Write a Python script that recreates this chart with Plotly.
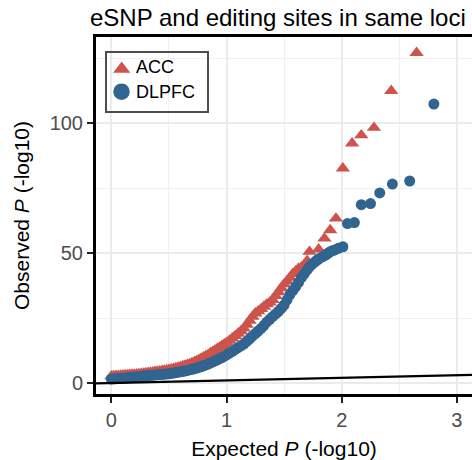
import plotly.graph_objects as go

# ACC (triangles): expected -log10 P vs observed -log10 P
acc_expected = [0.00, 0.02, 0.04, 0.06, 0.08, 0.10, 0.12, 0.14, 0.16, 0.18,
                0.20, 0.22, 0.24, 0.26, 0.28, 0.30, 0.32, 0.34, 0.36, 0.38,
                0.40, 0.42, 0.44, 0.46, 0.48, 0.50, 0.52, 0.54, 0.56, 0.58,
                0.60, 0.62, 0.64, 0.66, 0.68, 0.70, 0.72, 0.74, 0.76, 0.78,
                0.80, 0.82, 0.84, 0.86, 0.88, 0.90, 0.92, 0.94, 0.96, 0.98,
                1.00, 1.025, 1.05, 1.075, 1.10, 1.125, 1.15, 1.175, 1.20, 1.225,
                1.25, 1.275, 1.30, 1.325, 1.35, 1.375, 1.40, 1.425, 1.45, 1.475,
                1.50, 1.525, 1.55, 1.575, 1.60, 1.625, 1.65, 1.675, 1.70, 1.72,
                1.80, 1.85, 1.90, 1.95, 2.01, 2.09, 2.17, 2.28, 2.43, 2.65]
acc_observed = [2.6, 2.7, 2.75, 2.8, 2.9, 3.0, 3.05, 3.1, 3.2, 3.25,
                3.3, 3.4, 3.5, 3.6, 3.7, 3.8, 3.9, 4.0, 4.15, 4.3,
                4.4, 4.55, 4.7, 4.85, 5.0, 5.1, 5.3, 5.5, 5.75, 6.0,
                6.2, 6.5, 6.75, 7.05, 7.35, 7.7, 8.1, 8.5, 8.9, 9.4,
                9.9, 10.4, 10.9, 11.5, 12.0, 12.6, 13.2, 13.7, 14.3, 14.9,
                15.5, 16.3, 17.2, 18.1, 19.0, 20.0, 21.0, 22.5, 24.0, 25.5,
                26.8, 27.6, 28.5, 29.4, 30.3, 31.0, 32.0, 33.5, 35.0, 36.5,
                38.0, 39.2, 40.5, 42.0, 43.0, 44.0, 44.5, 45.5, 47.0, 50.5,
                51.4, 55.6, 58.8, 63.3, 82.6, 92.2, 95.3, 98.2, 112.4, 127.0]

# DLPFC (circles)
dlpfc_expected = [0.00, 0.02, 0.04, 0.06, 0.08, 0.10, 0.12, 0.14, 0.16, 0.18,
                  0.20, 0.22, 0.24, 0.26, 0.28, 0.30, 0.32, 0.34, 0.36, 0.38,
                  0.40, 0.42, 0.44, 0.46, 0.48, 0.50, 0.52, 0.54, 0.56, 0.58,
                  0.60, 0.62, 0.64, 0.66, 0.68, 0.70, 0.72, 0.74, 0.76, 0.78,
                  0.80, 0.82, 0.84, 0.86, 0.88, 0.90, 0.92, 0.94, 0.96, 0.98,
                  1.00, 1.025, 1.05, 1.075, 1.10, 1.125, 1.15, 1.175, 1.20, 1.225,
                  1.25, 1.275, 1.30, 1.325, 1.35, 1.375, 1.40, 1.425, 1.45, 1.475,
                  1.50, 1.525, 1.55, 1.575, 1.60, 1.625, 1.65, 1.675, 1.70, 1.72,
                  1.745, 1.77, 1.79, 1.81, 1.835, 1.86, 1.88, 1.90, 1.92, 1.94,
                  1.97, 2.01, 2.05, 2.11, 2.17, 2.25, 2.33, 2.44, 2.59, 2.80]
dlpfc_observed = [1.5, 1.6, 1.65, 1.7, 1.8, 1.85, 1.9, 2.0, 2.1, 2.2,
                  2.3, 2.4, 2.5, 2.6, 2.7, 2.8, 2.85, 2.95, 3.0, 3.1,
                  3.2, 3.25, 3.3, 3.4, 3.5, 3.6, 3.7, 3.85, 4.0, 4.15,
                  4.3, 4.5, 4.65, 4.85, 5.05, 5.25, 5.5, 5.75, 6.0, 6.3,
                  6.6, 6.95, 7.3, 7.7, 8.1, 8.5, 8.9, 9.35, 9.8, 10.3,
                  10.8, 11.5, 12.2, 12.9, 13.6, 14.3, 15.0, 16.0, 17.0, 18.0,
                  19.0, 20.0, 21.0, 22.2, 23.5, 24.5, 25.5, 26.5, 27.5, 28.7,
                  30.0, 32.0, 34.0, 35.5, 37.0, 38.7, 40.5, 42.0, 43.5, 44.7,
                  45.7, 46.7, 47.4, 48.0, 48.6, 49.2, 49.9, 50.5, 50.9, 51.2,
                  51.8, 52.4, 61.3, 61.7, 68.6, 69.0, 73.1, 76.5, 77.7, 107.3]

series_names = ["ACC", "DLPFC"]
x_ticks = [0, 1, 2, 3]
y_ticks = [0, 50, 100]

RED = "#CD534C"
BLUE = "#31648F"
FONT = "Liberation Sans, Arial, sans-serif"

x_range = [-0.133, 3.131]
y_range = [-4.23, 133.08]

# plot-area geometry (pixels) used to place the hand-drawn legend
W, H = 472, 460
PL, PR, PT, PB = 96, 472, 37, 394


def px_x(p):
    return (p - PL) / (PR - PL)


def px_y(p):
    return (PB - p) / (PB - PT)


fig = go.Figure()

fig.add_trace(go.Scatter(
    x=acc_expected, y=acc_observed, mode="markers", name=series_names[0],
    marker=dict(symbol="triangle-up", size=12.5, color=RED, line=dict(width=0)),
    showlegend=False))
fig.add_trace(go.Scatter(
    x=dlpfc_expected, y=dlpfc_observed, mode="markers", name=series_names[1],
    marker=dict(symbol="circle", size=11, color=BLUE, line=dict(width=0)),
    showlegend=False))

# y = x reference line
fig.add_trace(go.Scatter(
    x=x_range, y=x_range, mode="lines", line=dict(color="black", width=2.2),
    showlegend=False, hoverinfo="skip"))

# legend keys on an overlay axis spanning the plot area in [0, 1]
fig.add_trace(go.Scatter(
    x=[px_x(121.7)], y=[px_y(69.0)], mode="markers", xaxis="x2", yaxis="y2",
    marker=dict(symbol="triangle-up", size=15, color=RED, line=dict(width=0)),
    showlegend=False, hoverinfo="skip"))
fig.add_trace(go.Scatter(
    x=[px_x(121.5)], y=[px_y(91.7)], mode="markers", xaxis="x2", yaxis="y2",
    marker=dict(symbol="circle", size=16.5, color=BLUE, line=dict(width=0)),
    showlegend=False, hoverinfo="skip"))

# legend box: white fill under the keys, border on top
fig.add_shape(type="rect", xref="paper", yref="paper",
              x0=px_x(106), x1=px_x(208), y0=px_y(112), y1=px_y(52),
              fillcolor="white", line=dict(width=0), layer="between")
fig.add_shape(type="rect", xref="paper", yref="paper",
              x0=px_x(106), x1=px_x(208), y0=px_y(112), y1=px_y(52),
              fillcolor="rgba(0,0,0,0)", line=dict(color="#4D4D4D", width=2),
              layer="above")
fig.add_annotation(x=px_x(134), y=px_y(67), xref="paper", yref="paper",
                   text=series_names[0], showarrow=False, xanchor="left",
                   yanchor="middle", font=dict(size=18, color="black", family=FONT))
fig.add_annotation(x=px_x(134), y=px_y(92), xref="paper", yref="paper",
                   text=series_names[1], showarrow=False, xanchor="left",
                   yanchor="middle", font=dict(size=18, color="black", family=FONT))

fig.update_layout(
    width=W, height=H,
    margin=dict(l=PL, r=W - PR, t=PT, b=H - PB),
    paper_bgcolor="white", plot_bgcolor="white",
    font=dict(family=FONT, color="black"),
    showlegend=False,
    title=dict(text="eSNP and editing sites in same loci",
               x=90 / W, xref="container", xanchor="left",
               y=1 - 9 / H, yref="container", yanchor="top",
               font=dict(size=24, color="black", family=FONT)),
    xaxis2=dict(overlaying="x", anchor="y2", range=[0, 1], visible=False,
                fixedrange=True),
    yaxis2=dict(overlaying="y", anchor="x2", range=[0, 1], visible=False,
                fixedrange=True),
)

fig.layout.xaxis.update(
    range=x_range, tickvals=x_ticks, ticktext=[str(v) for v in x_ticks],
    showline=True, linecolor="black", linewidth=3, mirror=True,
    ticks="outside", ticklen=6, tickwidth=2.2, tickcolor="#222222",
    tickfont=dict(size=20, color="#4D4D4D", family=FONT),
    showgrid=True, gridcolor="#EBEBEB", gridwidth=2.4, zeroline=False,
    minor=dict(dtick=0.5, tick0=0, showgrid=True, gridcolor="#F0F0F0",
               gridwidth=1.4, ticklen=0),
    title=dict(text="Expected <i>P</i> (-log10)", standoff=13,
               font=dict(size=21, color="black", family=FONT)),
)
fig.layout.yaxis.update(
    range=y_range, tickvals=y_ticks, ticktext=[str(v) for v in y_ticks],
    showline=True, linecolor="black", linewidth=3, mirror=False,
    ticks="outside", ticklen=6, tickwidth=2.2, tickcolor="#222222",
    tickfont=dict(size=20, color="#4D4D4D", family=FONT),
    showgrid=True, gridcolor="#EBEBEB", gridwidth=2.4, zeroline=False,
    minor=dict(dtick=25, tick0=0, showgrid=True, gridcolor="#F0F0F0",
               gridwidth=1.4, ticklen=0),
    title=dict(text="Observed <i>P</i> (-log10)", standoff=15,
               font=dict(size=21, color="black", family=FONT)),
)

fig.write_html("out.html")
